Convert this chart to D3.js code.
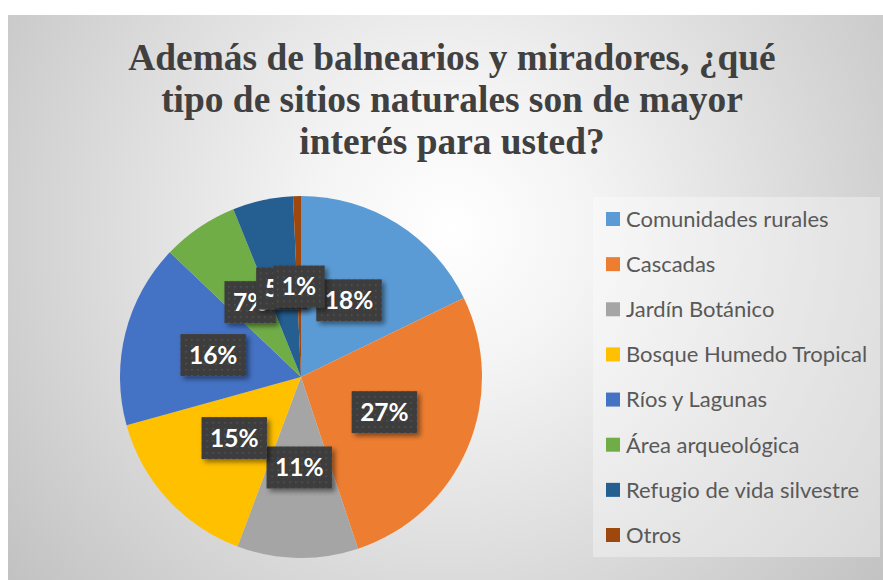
<!DOCTYPE html>
<html>
<head>
<meta charset="utf-8">
<title></title>
<script src="https://cdn.jsdelivr.net/npm/d3@7"></script>
<style>
  body { margin: 0; background: #fff; overflow: hidden; }
</style>
</head>
<body>
<div id="chart"></div>
<script>
// datos (porcentajes)
var categorias = ["Comunidades rurales", "Cascadas", "Jardín Botánico", "Bosque Humedo Tropical",
  "Ríos y Lagunas", "Área arqueológica", "Refugio de vida silvestre", "Otros"];
var valores = [17.8, 27.1, 10.8, 15.0, 16.4, 6.8, 5.4, 0.7];
var colores = ["#5B9BD5", "#ED7D31", "#A5A5A5", "#FFC000", "#4472C4", "#70AD47", "#255E91", "#9E480E"];
var titulo = ["Además de balnearios y miradores, ¿qué", "tipo de sitios naturales son de mayor", "interés para usted?"];

var W = 883, H = 580;
var svg = d3.select("#chart").append("svg").attr("width", W).attr("height", H);
var defs = svg.append("defs");

// fondo con degradado radial
var rg = defs.append("radialGradient").attr("id", "fondo")
  .attr("gradientUnits", "userSpaceOnUse")
  .attr("cx", 450).attr("cy", 230).attr("r", 560);
rg.append("stop").attr("offset", "0").attr("stop-color", "#ffffff");
rg.append("stop").attr("offset", "0.25").attr("stop-color", "#f4f4f4");
rg.append("stop").attr("offset", "1").attr("stop-color", "#c2c2c2");

// patron punteado de las etiquetas
var pat = defs.append("pattern").attr("id", "puntos")
  .attr("patternUnits", "userSpaceOnUse").attr("width", 6).attr("height", 6);
pat.append("rect").attr("width", 6).attr("height", 6).attr("fill", "#3d3d3d");
pat.append("rect").attr("x", 2).attr("y", 2).attr("width", 1.5).attr("height", 1.5).attr("fill", "#555555");

var sombra = defs.append("filter").attr("id", "sombra")
  .attr("x", "-30%").attr("y", "-30%").attr("width", "160%").attr("height", "160%");
sombra.append("feDropShadow").attr("dx", 3).attr("dy", 3).attr("stdDeviation", 2.5)
  .attr("flood-color", "#000").attr("flood-opacity", 0.45);

svg.append("rect").attr("x", 8).attr("y", 15).attr("width", W - 8).attr("height", H - 15)
  .attr("fill", "url(#fondo)");

// titulo
svg.append("g").selectAll("text").data(titulo).enter().append("text")
  .attr("x", 452).attr("y", function (d, i) { return 70 + i * 42; })
  .attr("text-anchor", "middle")
  .style("font-family", "'Liberation Serif', 'Times New Roman', serif")
  .style("font-weight", "bold").style("font-size", "37.4px")
  .attr("fill", "#404040")
  .text(function (d) { return d; });

// pastel
var cx = 301, cy = 377, r = 181;
var pie = d3.pie().sort(null).value(function (d) { return d; });
var arcos = pie(valores);
var arc = d3.arc().innerRadius(0).outerRadius(r);
var arcEtiq = d3.arc().innerRadius(r * 0.5).outerRadius(r * 0.5);
var total = d3.sum(valores);

var g = svg.append("g").attr("transform", "translate(" + cx + "," + cy + ")");
g.selectAll("path").data(arcos).enter().append("path")
  .attr("d", arc)
  .attr("fill", function (d, i) { return colores[i]; });

// etiquetas de datos
var etiq = g.selectAll("g.etiq").data(arcos).enter().append("g").attr("class", "etiq")
  .attr("transform", function (d) { return "translate(" + arcEtiq.centroid(d) + ")"; });
etiq.each(function (d) {
  var e = d3.select(this);
  var txt = Math.round(d.value / total * 100) + "%";
  var rect = e.append("rect").attr("fill", "url(#puntos)").attr("filter", "url(#sombra)");
  var t = e.append("text").attr("text-anchor", "middle").attr("dy", "0.36em")
    .style("font-family", "Lato, 'Open Sans', sans-serif").style("font-weight", "bold")
    .style("font-size", "24.5px").attr("fill", "#ffffff").text(txt);
  var w = t.node().getComputedTextLength() + 17, h = 42;
  rect.attr("x", -w / 2).attr("y", -h / 2).attr("width", w).attr("height", h);
});

// leyenda
svg.append("rect").attr("x", 593).attr("y", 197).attr("width", 287).attr("height", 360)
  .attr("fill", "#ffffff").attr("fill-opacity", 0.35);
var y = d3.scalePoint().domain(categorias).range([219, 535]);
var ley = svg.append("g").selectAll("g").data(categorias).enter().append("g")
  .attr("transform", function (d) { return "translate(606," + y(d) + ")"; });
ley.append("rect").attr("x", 0).attr("y", -7).attr("width", 14).attr("height", 14)
  .attr("fill", function (d, i) { return colores[i]; });
ley.append("text").attr("x", 20).attr("dy", "0.36em")
  .style("font-family", "Lato, 'Open Sans', sans-serif").style("font-size", "22px")
  .attr("fill", "#595959").text(function (d) { return d; });
</script>
</body>
</html>
